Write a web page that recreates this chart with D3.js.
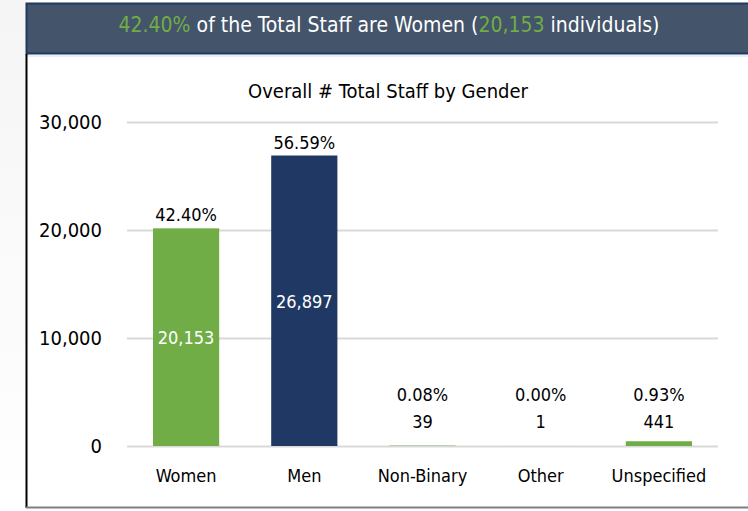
<!DOCTYPE html>
<html>
<head>
<meta charset="utf-8">
<script src="https://cdn.jsdelivr.net/npm/d3@7"></script>
<style>
  html, body { margin: 0; padding: 0; background: #fff; }
  svg text { font-family: "Liberation Sans Narrow", "DejaVu Sans Condensed", "Roboto", sans-serif; font-stretch: condensed; }
</style>
</head>
<body>
<svg id="chart" width="748" height="511"></svg>
<script>
  // Data.
  var categories = ["Women", "Men", "Non-Binary", "Other", "Unspecified"];
  var staffCounts = [20153, 26897, 39, 1, 441];
  var barColors = ["#70ad47", "#203864", "#70ad47", "#70ad47", "#70ad47"];
  var yTicks = [0, 10000, 20000, 30000];
  var chartTitle = "Overall # Total Staff by Gender";

  var total = d3.sum(staffCounts);
  var fmtCount = d3.format(",");
  var fmtPct = function (v) { return (v / total * 100).toFixed(2) + "%"; };

  var svg = d3.select("#chart");
  var W = 748, H = 511;

  // Page background: faint gray strip on the left.
  var grad = svg.append("defs").append("linearGradient")
    .attr("id", "leftfade").attr("x1", 0).attr("y1", 0).attr("x2", 0).attr("y2", 1);
  grad.append("stop").attr("offset", "0%").attr("stop-color", "#f5f5f5");
  grad.append("stop").attr("offset", "100%").attr("stop-color", "#ffffff");
  svg.append("rect").attr("x", 0).attr("y", 0).attr("width", 26).attr("height", H)
    .attr("fill", "url(#leftfade)");

  // Header banner.
  svg.append("rect")
    .attr("x", 26.5).attr("y", 3.5).attr("width", W).attr("height", 50)
    .attr("fill", "#44546a").attr("stroke", "#1f3864").attr("stroke-width", 2);
  svg.append("line").attr("x1", 26).attr("x2", W).attr("y1", 56).attr("y2", 56)
    .attr("stroke", "#d6dce5").attr("stroke-width", 1);

  var headline = svg.append("text")
    .attr("x", 389).attr("y", 32)
    .attr("text-anchor", "middle")
    .attr("font-size", 21)
    .attr("fill", "#ffffff");
  headline.append("tspan").attr("fill", "#70ad47").text(fmtPct(staffCounts[0]));
  headline.append("tspan").text(" of the Total Staff are Women (");
  headline.append("tspan").attr("fill", "#70ad47").text(fmtCount(staffCounts[0]));
  headline.append("tspan").text(" individuals)");

  // Frame lines.
  svg.append("line").attr("x1", 26.5).attr("x2", 26.5).attr("y1", 54).attr("y2", 508)
    .attr("stroke", "#000").attr("stroke-width", 2);
  svg.append("line").attr("x1", 26).attr("x2", W).attr("y1", 507.5).attr("y2", 507.5)
    .attr("stroke", "#7f7f7f").attr("stroke-width", 2);

  // Chart title.
  svg.append("text")
    .attr("x", 388).attr("y", 98)
    .attr("text-anchor", "middle")
    .attr("font-size", 20)
    .attr("fill", "#000")
    .text(chartTitle);

  // Scales.
  var plot = { left: 127, right: 718, top: 122, bottom: 446 };
  var x = d3.scaleBand().domain(categories).range([plot.left, plot.right])
    .paddingInner(0.44).paddingOuter(0.22);
  var y = d3.scaleLinear().domain([0, 30000]).range([plot.bottom, plot.top]);

  // Gridlines.
  var grid = svg.append("g").attr("transform", "translate(" + plot.left + ",0)")
    .call(d3.axisLeft(y).tickValues(yTicks).tickSize(-(plot.right - plot.left)).tickFormat(""));
  grid.select(".domain").remove();
  grid.selectAll(".tick line").attr("stroke", "#d9d9d9").attr("stroke-width", 2);

  // Y axis labels.
  var yAxis = svg.append("g").attr("transform", "translate(" + plot.left + ",0)")
    .call(d3.axisLeft(y).tickValues(yTicks).tickFormat(fmtCount).tickSize(0).tickPadding(25));
  yAxis.select(".domain").remove();
  yAxis.selectAll("text").attr("font-size", 20).attr("fill", "#000")
    .attr("font-family", null);

  // X axis labels.
  var xAxis = svg.append("g").attr("transform", "translate(0," + plot.bottom + ")")
    .call(d3.axisBottom(x).tickSize(0).tickPadding(23));
  xAxis.select(".domain").remove();
  xAxis.selectAll("text").attr("font-size", 18).attr("fill", "#000")
    .attr("font-family", null);

  // Bars.
  var rows = categories.map(function (c, i) {
    return { cat: c, value: staffCounts[i], color: barColors[i] };
  });

  svg.append("g").selectAll("rect").data(rows).enter().append("rect")
    .attr("x", function (d) { return x(d.cat); })
    .attr("width", x.bandwidth())
    .attr("y", function (d) { return y(d.value); })
    .attr("height", function (d) { return plot.bottom - y(d.value); })
    .attr("fill", function (d) { return d.color; });

  // Labels: big bars get count inside, small bars get count above.
  var labels = svg.append("g").selectAll("g").data(rows).enter().append("g");
  labels.each(function (d) {
    var g = d3.select(this);
    var cx = x(d.cat) + x.bandwidth() / 2;
    var top = y(d.value);
    var big = d.value > 5000;
    var countY = big ? (top + plot.bottom) / 2 + 7 : Math.min(top - 10, 428);
    var pctY = big ? top - 7 : countY - 27;
    g.append("text")
      .attr("x", cx).attr("y", pctY)
      .attr("text-anchor", "middle").attr("font-size", 18).attr("fill", "#000")
      .text(fmtPct(d.value));
    g.append("text")
      .attr("x", cx).attr("y", countY)
      .attr("text-anchor", "middle").attr("font-size", 18)
      .attr("fill", big ? "#fff" : "#000")
      .text(fmtCount(d.value));
  });
</script>
</body>
</html>
